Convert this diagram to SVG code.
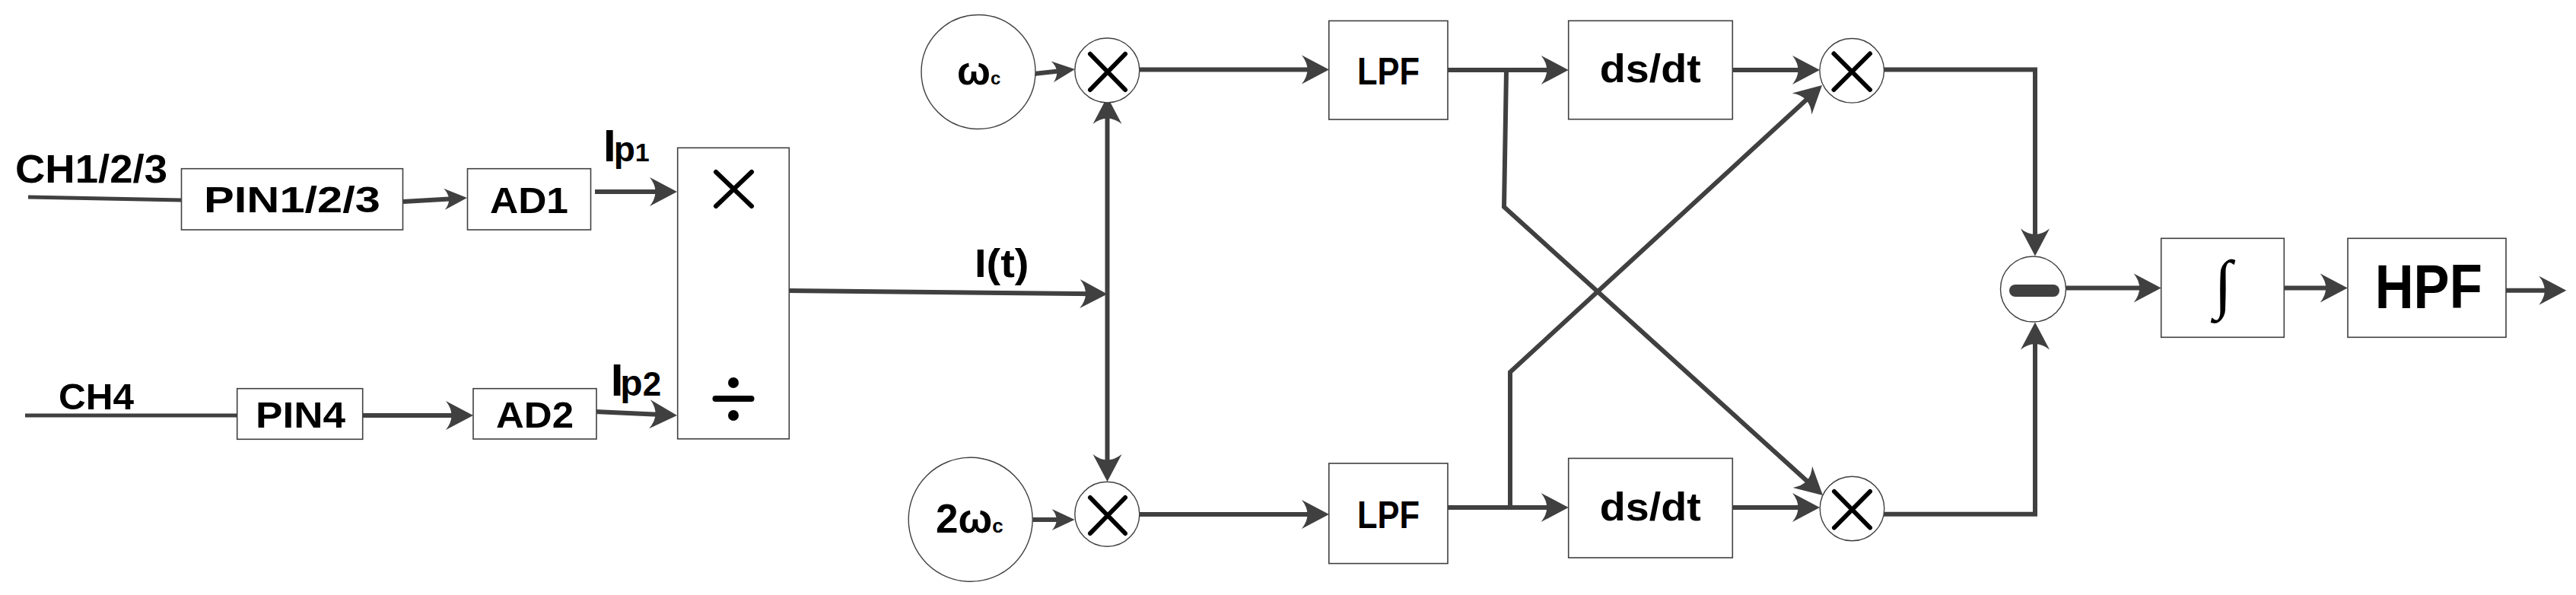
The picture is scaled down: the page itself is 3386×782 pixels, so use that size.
<svg xmlns="http://www.w3.org/2000/svg" width="3386" height="782" viewBox="0 0 3386 782">
<style>
.box{fill:#fff;stroke:#404040;stroke-width:1.6}
.circ{fill:#fff;stroke:#404040;stroke-width:1.4}
.t{font-family:"Liberation Sans",Arial,sans-serif;font-weight:bold;fill:#000}
.sym{stroke:#000;stroke-width:6;stroke-linecap:round;fill:none}
.c{fill:none;stroke:#404040;stroke-width:6}
.ci{fill:none;stroke:#404040;stroke-width:5}
.ab{marker-end:url(#ab)}
.as{marker-end:url(#as)}
</style>
<defs>
<marker id="ab" markerUnits="userSpaceOnUse" viewBox="-22 -20 38 40" markerWidth="38" markerHeight="40" refX="0" refY="0" orient="auto">
<path d="M15,0 L-21,-19 Q-6,0 -21,19 Z" fill="#404040"/>
</marker>
<marker id="as" markerUnits="userSpaceOnUse" viewBox="-16 -15 32 30" markerWidth="32" markerHeight="30" refX="0" refY="0" orient="auto">
<path d="M15,0 L-15,-14 Q-3,0 -15,14 Z" fill="#404040"/>
</marker>
<marker id="abs" markerUnits="userSpaceOnUse" viewBox="-22 -20 38 40" markerWidth="38" markerHeight="40" refX="0" refY="0" orient="auto-start-reverse">
<path d="M15,0 L-21,-19 Q-6,0 -21,19 Z" fill="#404040"/>
</marker>
</defs>
<rect width="3386" height="782" fill="#fff"/>

<g id="connectors">
<path class="ci" d="M37,259 L238.5,263"/>
<path class="c as" d="M530,265 L599,260.9"/>
<path class="c ab" d="M782,252 L875,252"/>
<path class="ci" d="M33,546 L311.7,546"/>
<path class="c ab" d="M477,546 L607,546"/>
<path class="c ab" d="M782,541 L875,545.3"/>
<path class="c ab" d="M1037,382 L1440.5,386.3"/>
<path class="c" d="M1455.5,142 L1455.5,618" marker-start="url(#abs)" marker-end="url(#abs)"/>
<path class="c as" d="M1359,97 L1398.1,92.7"/>
<path class="c as" d="M1357.3,683 L1397.7,683"/>
<path class="c ab" d="M1497.5,91.5 L1732,91.5"/>
<path class="c ab" d="M1497.5,676 L1732,676"/>
<path class="c ab" d="M1903,92 L2046.7,92"/>
<path class="c ab" d="M1903,667 L2046.7,667"/>
<path class="c ab" d="M2277,92 L2377,92"/>
<path class="c ab" d="M2277,667 L2377,667"/>
<path class="c ab" d="M1980,92 L1977,272 L2384.9,640.9"/>
<path class="c ab" d="M1985,667 L1985,489 L2384,122.2"/>
<path class="c ab" d="M2465,91.5 L2675,91.5 L2675,321.5"/>
<path class="c ab" d="M2476,675.7 L2675,675.7 L2675,438.5"/>
<path class="c ab" d="M2715.7,378.5 L2825.7,378.5"/>
<path class="c ab" d="M3002,378.5 L3070.7,378.5"/>
<path class="c ab" d="M3294,381.7 L3358.3,381.7"/>
</g>

<g id="label-ch123"><text class="t" x="20" y="240" font-size="52" textLength="200" lengthAdjust="spacingAndGlyphs">CH1/2/3</text></g>
<g id="label-ch4"><text class="t" x="77" y="537.5" font-size="49" textLength="99" lengthAdjust="spacingAndGlyphs">CH4</text></g>

<g id="pin123">
<rect class="box" x="238.5" y="221.7" width="291" height="80.3"/>
<text class="t" x="268" y="278.5" font-size="49" textLength="232" lengthAdjust="spacingAndGlyphs">PIN1/2/3</text>
</g>
<g id="ad1">
<rect class="box" x="614.5" y="221.7" width="162" height="80.3"/>
<text class="t" x="644" y="280" font-size="49" textLength="103" lengthAdjust="spacingAndGlyphs">AD1</text>
</g>
<g id="pin4">
<rect class="box" x="311.7" y="510.7" width="165" height="66.6"/>
<text class="t" x="336" y="561.7" font-size="49" textLength="118" lengthAdjust="spacingAndGlyphs">PIN4</text>
</g>
<g id="ad2">
<rect class="box" x="622" y="510.7" width="162" height="66.3"/>
<text class="t" x="652" y="561.7" font-size="49" textLength="102" lengthAdjust="spacingAndGlyphs">AD2</text>
</g>

<g id="label-ip1"><text class="t" x="793" y="211.7"><tspan font-size="60">I</tspan><tspan font-size="46" dx="-3">p</tspan><tspan font-size="34">1</tspan></text></g>
<g id="label-ip2"><text class="t" x="802.7" y="520"><tspan font-size="60">I</tspan><tspan font-size="48" dx="-4">p</tspan><tspan font-size="44">2</tspan></text></g>

<g id="muldiv">
<rect class="box" x="890.7" y="194.3" width="146.6" height="382.5"/>
<path class="sym" d="M941,226 L988,271 M988,226 L941,271"/>
<path d="M940.5,524 L987.5,524" stroke="#000" stroke-width="8" stroke-linecap="round"/>
<circle cx="964" cy="503" r="7" fill="#000"/>
<circle cx="964" cy="546" r="7" fill="#000"/>
</g>

<g id="label-it"><text class="t" x="1281" y="364" font-size="52" textLength="71.5" lengthAdjust="spacingAndGlyphs">I(t)</text></g>

<g id="osc1">
<circle class="circ" cx="1286" cy="94.5" r="75"/>
<text class="t" x="1258" y="110.7"><tspan font-size="52">ω</tspan><tspan font-size="24">c</tspan></text>
</g>
<g id="osc2">
<circle class="circ" cx="1275.7" cy="682.8" r="81.5"/>
<text class="t" x="1230" y="700"><tspan font-size="53">2ω</tspan><tspan font-size="26">c</tspan></text>
</g>

<g id="mix1">
<circle class="circ" cx="1455.3" cy="92.5" r="42.5"/>
<path class="sym" d="M1433,71 L1479,118 M1479,71 L1433,118"/>
</g>
<g id="mix2">
<circle class="circ" cx="1455.3" cy="675.8" r="42.5"/>
<path class="sym" d="M1433,654 L1479,701 M1479,654 L1433,701"/>
</g>

<g id="lpf1">
<rect class="box" x="1746.8" y="27.4" width="156.2" height="129.6"/>
<text class="t" x="1784" y="110.7" font-size="50" textLength="82" lengthAdjust="spacingAndGlyphs">LPF</text>
</g>
<g id="lpf2">
<rect class="box" x="1746.8" y="609" width="156.2" height="131.6"/>
<text class="t" x="1784" y="694" font-size="50" textLength="82" lengthAdjust="spacingAndGlyphs">LPF</text>
</g>

<g id="diff1">
<rect class="box" x="2061.7" y="27.3" width="215.6" height="129.4"/>
<text class="t" x="2102.7" y="108.3" font-size="52" textLength="133" lengthAdjust="spacingAndGlyphs">ds/dt</text>
</g>
<g id="diff2">
<rect class="box" x="2061.7" y="602.4" width="215.6" height="130.6"/>
<text class="t" x="2102.7" y="683.7" font-size="52" textLength="133" lengthAdjust="spacingAndGlyphs">ds/dt</text>
</g>

<g id="mix3">
<circle class="circ" cx="2434.2" cy="92.8" r="42.3"/>
<path class="sym" d="M2410.5,70.5 L2458,118 M2458,70.5 L2410.5,118"/>
</g>
<g id="mix4">
<circle class="circ" cx="2434.5" cy="668.5" r="42.3"/>
<path class="sym" d="M2411,646 L2458,693.5 M2458,646 L2411,693.5"/>
</g>

<g id="subtract">
<circle class="circ" cx="2672.5" cy="380" r="43"/>
<rect x="2641" y="374" width="66" height="16" rx="8" fill="#404040"/>
</g>

<g id="integrator">
<rect class="box" x="2840.7" y="313.3" width="161.6" height="130"/>
<text x="2922" y="402" font-family="'Liberation Serif','DejaVu Serif',serif" font-size="86" font-style="italic" text-anchor="middle" fill="#000">∫</text>
</g>

<g id="hpf">
<rect class="box" x="3086" y="313.3" width="208" height="130"/>
<text class="t" x="3121.7" y="405" font-size="81" textLength="141" lengthAdjust="spacingAndGlyphs">HPF</text>
</g>
</svg>
